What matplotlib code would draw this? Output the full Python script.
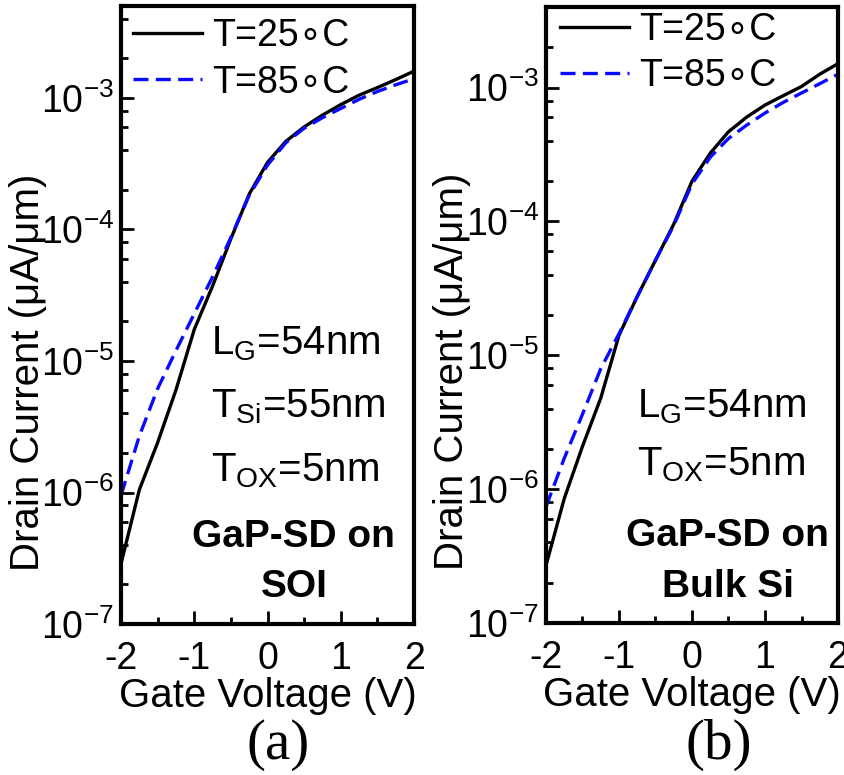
import matplotlib
matplotlib.use('Agg')
import matplotlib.pyplot as plt
from matplotlib.ticker import LogLocator, MultipleLocator, NullFormatter

plt.rcParams['font.family'] = ['Liberation Sans', 'DejaVu Sans']
plt.rcParams['mathtext.fontset'] = 'custom'
plt.rcParams['mathtext.rm'] = 'Liberation Sans'
plt.rcParams['mathtext.it'] = 'Liberation Sans'
plt.rcParams['mathtext.bf'] = 'Liberation Sans:bold'
plt.rcParams['mathtext.default'] = 'regular'
plt.rcParams['axes.unicode_minus'] = False

# gate voltage (V)
vg = [-2.0, -1.75, -1.5, -1.25, -1.0, -0.75, -0.5, -0.25, 0.0,
      0.25, 0.5, 0.75, 1.0, 1.25, 1.5, 1.75, 2.0]

# drain current (uA/um), (a) GaP-SD on SOI
id_soi_25 = [2.88e-7, 1.05e-6, 2.40e-6, 6.03e-6, 1.74e-5, 3.72e-5, 8.51e-5, 1.86e-4, 3.24e-4,
             4.68e-4, 6.03e-4, 7.41e-4, 8.91e-4, 1.05e-3, 1.20e-3, 1.38e-3, 1.60e-3]
id_soi_85 = [9.5e-7, 2.69e-6, 6.17e-6, 1.20e-5, 2.29e-5, 4.37e-5, 8.71e-5, 1.82e-4, 3.09e-4,
             4.57e-4, 5.89e-4, 7.08e-4, 8.32e-4, 9.77e-4, 1.12e-3, 1.26e-3, 1.40e-3]

# drain current (uA/um), (b) GaP-SD on Bulk Si
id_bulk_25 = [2.69e-7, 8.5e-7, 2.09e-6, 4.79e-6, 1.41e-5, 2.75e-5, 5.13e-5, 9.55e-5, 2.00e-4,
              3.24e-4, 4.68e-4, 6.03e-4, 7.41e-4, 8.71e-4, 1.02e-3, 1.26e-3, 1.51e-3]
id_bulk_85 = [7.4e-7, 1.70e-6, 3.63e-6, 7.94e-6, 1.45e-5, 2.75e-5, 5.13e-5, 9.33e-5, 1.91e-4,
              3.02e-4, 4.17e-4, 5.25e-4, 6.46e-4, 7.76e-4, 9.12e-4, 1.07e-3, 1.26e-3]

legend_labels = ['T=25\u2218C', 'T=85\u2218C']

fig = plt.figure(figsize=(8.44, 7.75), dpi=100)

panels = [
    dict(rect=[0.1434, 0.1948, 0.3472, 0.7974], ytop=5e-3, y25=id_soi_25, y85=id_soi_85,
         params=['L$_{G}$=54nm', 'T$_{Si}$=55nm', 'T$_{OX}$=5nm'],
         param_pos=[(0.307, 0.437), (0.307, 0.335), (0.307, 0.230)],
         sample=['GaP-SD on', 'SOI'], sample_pos=[(0.59, 0.125), (0.59, 0.044)],
         leg_anchor=(0.041, 0.980), ylab_x=-0.252, tag='(a)', tag_x=0.329),
    dict(rect=[0.6469, 0.1961, 0.3460, 0.7948], ytop=4e-3, y25=id_bulk_25, y85=id_bulk_85,
         params=['L$_{G}$=54nm', 'T$_{OX}$=5nm'],
         param_pos=[(0.312, 0.334), (0.312, 0.239)],
         sample=['GaP-SD on', 'Bulk Si'], sample_pos=[(0.623, 0.125), (0.623, 0.042)],
         leg_anchor=(0.048, 0.992), ylab_x=-0.258, tag='(b)', tag_x=0.852),
]

for p in panels:
    ax = fig.add_axes(p['rect'])
    ax.plot(vg, p['y25'], color='black', lw=2.4, label=legend_labels[0])
    ax.plot(vg, p['y85'], color='#0a0aff', lw=2.4, dashes=(4.5, 2.2), label=legend_labels[1])
    ax.set_yscale('log')
    ax.set_xlim(-2, 2)
    ax.set_ylim(1e-7, p['ytop'])

    ax.xaxis.set_major_locator(MultipleLocator(1))
    ax.xaxis.set_minor_locator(MultipleLocator(0.5))
    ax.yaxis.set_major_locator(LogLocator(base=10, numticks=20))
    ax.yaxis.set_minor_locator(LogLocator(base=10, subs=(2, 4, 6, 8), numticks=20))
    ax.yaxis.set_minor_formatter(NullFormatter())
    ax.tick_params(which='both', direction='in', top=False, right=False, width=2)
    ax.tick_params(which='major', length=9.5, labelsize=27)
    ax.tick_params(axis='y', which='major', pad=5)
    ax.tick_params(axis='x', which='major', pad=12)
    ax.tick_params(which='minor', length=5)
    for s in ax.spines.values():
        s.set_linewidth(3)

    ax.set_xlabel('Gate Voltage (V)', fontsize=29, labelpad=0)
    ax.set_ylabel('Drain Current (\u03bcA/\u03bcm)', fontsize=29)
    ax.yaxis.set_label_coords(p['ylab_x'], 0.408)

    ax.legend(loc='upper left', bbox_to_anchor=p['leg_anchor'], frameon=False,
              fontsize=27, handlelength=1.84, handletextpad=0.27, labelspacing=0.27,
              borderpad=0, borderaxespad=0)

    for txt, (tx, ty) in zip(p['params'], p['param_pos']):
        ax.text(tx, ty, txt, transform=ax.transAxes, fontsize=29, ha='left', va='baseline')
    for txt, (tx, ty) in zip(p['sample'], p['sample_pos']):
        ax.text(tx, ty, txt, transform=ax.transAxes, fontsize=28, fontweight='bold',
                ha='center', va='baseline')

    fig.text(p['tag_x'], 0.039, p['tag'], fontsize=41, family='Liberation Serif',
             ha='center', va='center')

fig.savefig('out.png', dpi=100)
